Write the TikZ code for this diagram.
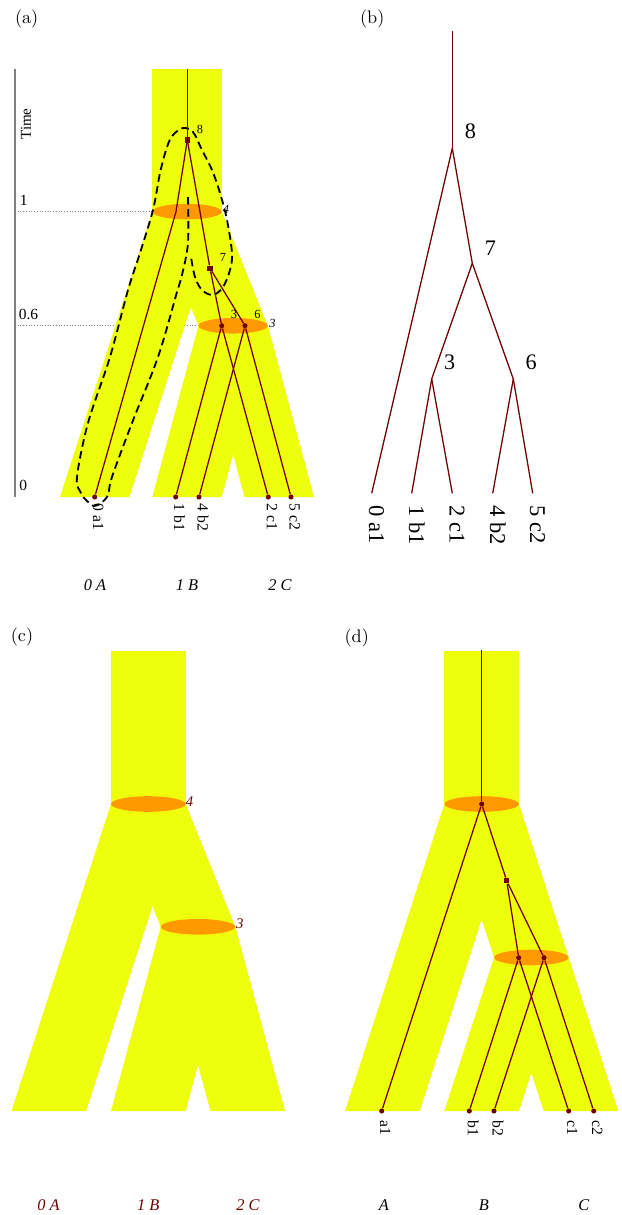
\documentclass[tikz,border=0pt]{standalone}
\usepackage{fontspec}
\usepackage{tikz}
\usetikzlibrary{positioning}
\newfontfamily\tms{Liberation Serif}
\definecolor{popyellow}{HTML}{EEFF0C}
\definecolor{splitorange}{HTML}{FF9900}
\definecolor{genered}{HTML}{6E0000}
\definecolor{axisgray}{HTML}{808080}

\begin{document}
\begin{tikzpicture}[x=0.55pt, y=-0.55pt,
    popzone/.style={fill=popyellow},
    splitevent/.style={fill=splitorange},
    gene/.style={genered, line width=0.7pt},
    dotnode/.style={circle, fill=genered, inner sep=0pt, minimum size=2.8pt},
    sqnode/.style={rectangle, fill=genered, inner sep=0pt, minimum size=3pt},
    paneltag/.style={font=\fontsize{10}{12}\selectfont, inner sep=0pt},
    axlab/.style={font=\tms\fontsize{8.5}{10}\selectfont, inner sep=0pt, anchor=west},
    numlab/.style={font=\tms\fontsize{6.8}{8}\selectfont, inner sep=0pt},
    biglab/.style={font=\tms\fontsize{12.2}{14}\selectfont, inner sep=0pt},
    leaflab/.style={font=\tms\fontsize{8.6}{10}\selectfont, inner sep=0pt,
                    rotate=-90, anchor=base west},
    bigleaf/.style={leaflab, font=\tms\fontsize{12.4}{14}\selectfont},
    poplab/.style={font=\tms\itshape\fontsize{9}{11}\selectfont, inner sep=0pt},
    evlab/.style={font=\tms\itshape\fontsize{6.8}{8}\selectfont, inner sep=0pt}]
  \useasboundingbox (0,0) rectangle (622,1215);

  % time axis of (a)
  \draw[axisgray, densely dotted, line width=0.5pt] (15,211.7) -- (152,211.7);
  \draw[axisgray, densely dotted, line width=0.5pt] (15,325.7) -- (199,325.7);
  \draw[axisgray, line width=0.7pt] (15,69) -- (15,497);
  \node[font=\tms\fontsize{8.3}{10}\selectfont, inner sep=0pt, rotate=90]
    (timelab) at (26,124) {Time};
  \node[axlab] at (19.5,200) {1};
  \node[axlab] at (18.5,314) {0.6};
  \node[axlab] at (19,485.5) {0};

  % species trees of (a), (c), (d)
  \foreach \cx/\by/\ww/\dd/\sc/\ts in {187/497/34.7/92.3/285.4/0.6,
                                       148.3/1111/37.3/99.5/307/0.6,
                                       481.7/1111/37.3/99.3/307/0.5}
  {
    \fill[popzone] (\cx-\ww,\by-1.5*\sc) rectangle (\cx+\ww,\by-\sc);
    \fill[popzone] (\cx-\ww,\by-\sc) -- (\cx+\ww,\by-\sc)
      -- (\cx-\dd+\ww,\by) -- (\cx-\dd-\ww,\by) -- cycle;
    \fill[popzone] (\cx-\ww,\by-\sc) -- (\cx+\ww,\by-\sc)
      -- (\cx+\dd/2+\ww,\by-\ts*\sc) -- (\cx+\dd/2-\ww,\by-\ts*\sc) -- cycle;
    \fill[popzone] (\cx+\dd/2-\ww,\by-\ts*\sc) -- (\cx+\dd/2+\ww,\by-\ts*\sc)
      -- (\cx+\ww,\by) -- (\cx-\ww,\by) -- cycle;
    \fill[popzone] (\cx+\dd/2-\ww,\by-\ts*\sc) -- (\cx+\dd/2+\ww,\by-\ts*\sc)
      -- (\cx+\dd+\ww,\by) -- (\cx+\dd-\ww,\by) -- cycle;
    \fill[splitevent] (\cx,\by-\sc) ellipse [x radius=\ww, y radius=7.8];
    \fill[splitevent] (\cx+\dd/2,\by-\ts*\sc) ellipse [x radius=\ww, y radius=7.8];
  }

  % dashed outline in (a)
  \draw[black, line width=1pt, dash pattern=on 4.2pt off 2.4pt]
    plot[smooth, tension=0.55] coordinates {
      (188,197) (188,243) (182,275) (177,292) (158,357) (132,423) (112,477)
      (108,495) (101,503) (94,506) (87,501) (81,493) (77,477) (88,423)
      (110,357) (128,290) (140,253) (153,210) (160,173) (167,147) (173,135)
      (183,128) (193,132) (202,150) (212,170) (220,193) (227,220) (232,253)
      (230,270) (223,287) (213,295) (202,290) (195,277) (191,257)};

  % (a) gene tree
  \coordinate (a-top) at (187.3,69);
  \coordinate (a-in) at (176,211.7);
  \node[sqnode] (a-n8) at (187.3,140) {};
  \node[sqnode] (a-n7) at (210,268.3) {};
  \node[dotnode] (a-n3) at (221.7,325.7) {};
  \node[dotnode] (a-n6) at (245,325.7) {};
  \foreach \lf/\x/\txt in {a1/94.7/0 a1, b1/175.7/1 b1, b2/199/4 b2,
                           c1/268.3/2 c1, c2/291/5 c2}
  {
    \node[dotnode] (a-\lf) at (\x,497) {};
    \node[leaflab] at (\x-1.5,503.5) {\txt};
  }
  \draw[gene] (a-top) -- (a-n8);
  \draw[gene] (a-n8) -- (a-in) -- (a-a1);
  \foreach \u/\v in {n8/n7, n7/n3, n7/n6, n3/b1, n3/c1, n6/b2, n6/c2}
    \draw[gene] (a-\u) -- (a-\v);
  \node[numlab] at (200,129) {8};
  \node[numlab] at (223,257) {7};
  \node[numlab] at (234,314) {3};
  \node[numlab] at (257.5,314) {6};
  \node[evlab] at (226,209) {4};
  \node[evlab] at (272.5,323.3) {3};
  \foreach \x/\txt in {95/0 A, 187/1 B, 280/2 C}
    \node[poplab] at (\x,585) {\txt};

  % (b) gene tree alone
  \coordinate (b-top) at (452.3,31);
  \coordinate (b-n8) at (452.3,148.3);
  \coordinate (b-n7) at (472.3,263.3);
  \coordinate (b-n3) at (431.7,379);
  \coordinate (b-n6) at (513.3,379);
  \foreach \lf/\x/\txt in {a1/371.7/0 a1, b1/411.7/1 b1, c1/452.3/2 c1,
                           b2/492.7/4 b2, c2/532.7/5 c2}
  {
    \coordinate (b-\lf) at (\x,493.3);
    \node[bigleaf] at (\x-2.7,505) {\txt};
  }
  \foreach \u/\v in {top/n8, n8/a1, n8/n7, n7/n3, n7/n6, n3/b1, n3/c1, n6/b2, n6/c2}
    \draw[gene] (b-\u) -- (b-\v);
  \node[biglab] at (470.5,131) {8};
  \node[biglab] at (490.5,248) {7};
  \node[biglab] at (449.7,362.5) {3};
  \node[biglab] at (531.2,362.5) {6};

  % (c) labels
  \node[evlab, text=genered, font=\tms\itshape\fontsize{8.1}{10}\selectfont]
    at (189.5,801.5) {4};
  \node[evlab, text=genered, font=\tms\itshape\fontsize{8.1}{10}\selectfont]
    at (239.8,923.3) {3};
  \foreach \x/\txt in {48.5/0 A, 148.3/1 B, 248/2 C}
    \node[poplab, text=genered] at (\x,1205.5) {\txt};

  % (d) gene tree inside the species tree
  \coordinate (d-top) at (481.7,650);
  \node[dotnode] (d-n4) at (481.7,804) {};
  \node[sqnode] (d-n7) at (506.7,880.7) {};
  \node[dotnode] (d-n3) at (518.7,957.7) {};
  \node[dotnode] (d-n6) at (544,957.7) {};
  \foreach \lf/\x in {a1/381.7, b1/469.3, b2/494, c1/568.7, c2/593.7}
  {
    \node[dotnode] (d-\lf) at (\x,1111) {};
    \node[leaflab] at (\x-1.5,1120) {\lf};
  }
  \foreach \u/\v in {top/n4, n4/a1, n4/n7, n7/n3, n7/n6, n3/b1, n3/c1, n6/b2, n6/c2}
    \draw[gene] (d-\u) -- (d-\v);
  \foreach \x/\txt in {383.8/A, 483.8/B, 583.8/C}
    \node[poplab] at (\x,1205) {\txt};

  % panel tags
  \node[paneltag] at (26.7,19) {(a)};
  \node[paneltag] at (372.3,19) {(b)};
  \node[paneltag] at (22,637) {(c)};
  \node[paneltag] at (356.7,638) {(d)};
\end{tikzpicture}
\end{document}
